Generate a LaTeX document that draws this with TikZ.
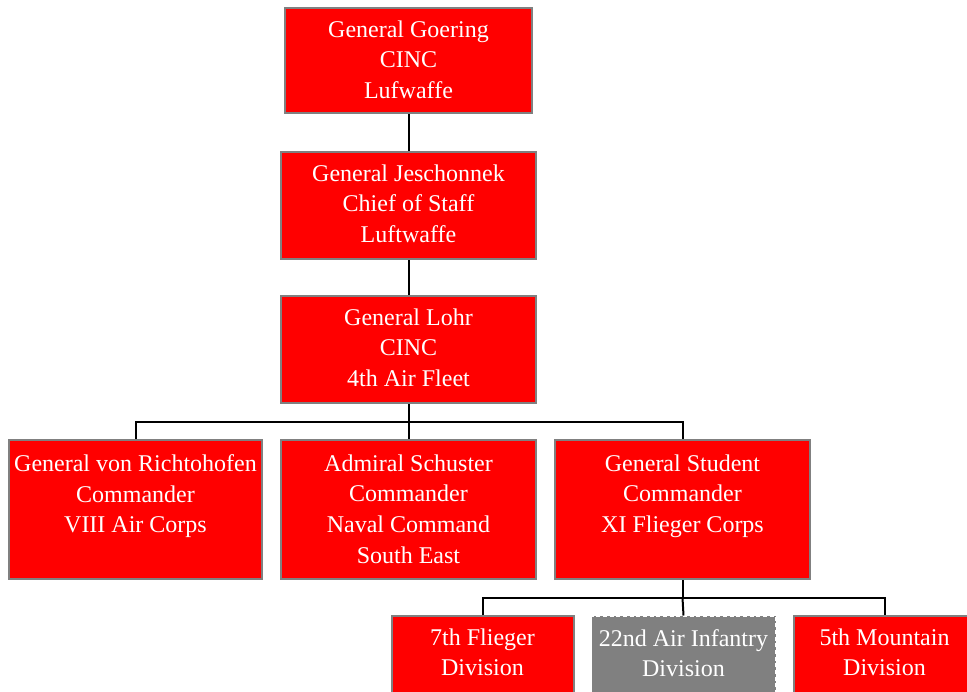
\documentclass[tikz,border=0pt]{standalone}
\usepackage{fontspec}
\setmainfont{Liberation Serif}
\usetikzlibrary{positioning}

\begin{document}
\begin{tikzpicture}[x=0.75pt,y=-0.75pt,
        unit/.style={draw={rgb, 255:red, 128; green, 128; blue, 128}, line width=1.5pt, fill={rgb, 255:red, 255; green, 0; blue, 0}, inner sep=0pt},
        detached/.style={draw=white, line width=0.75pt, densely dashed, fill={rgb, 255:red, 128; green, 128; blue, 128}, inner sep=0pt},
        unittext/.style={text=white, align=center, inner sep=0pt, font=\fontsize{18}{23}\selectfont},
        link/.style={line width=1.5pt}]
        \clip (0,0) rectangle (967,692);
        
        %Shape: Rectangle [goering]
        \node [unit, minimum width=185.25pt, minimum height=78.75pt] (goering) at (408.5,60.5) {};
        %Shape: Rectangle [jeschonnek]
        \node [unit, minimum width=191.25pt, minimum height=80.25pt] (jeschonnek) at (408.5,205.5) {};
        %Shape: Rectangle [lohr]
        \node [unit, minimum width=191.25pt, minimum height=80.25pt] (lohr) at (408.5,349.5) {};
        
        %Shape: Rectangle [richt]
        \node [unit, minimum width=189.75pt, minimum height=104.25pt] (richt) at (135.5,509.5) {};
        %Shape: Rectangle [schuster]
        \node [unit, minimum width=191.25pt, minimum height=104.25pt] (schuster) at (408.5,509.5) {};
        %Shape: Rectangle [student]
        \node [unit, minimum width=191.25pt, minimum height=104.25pt] (student) at (682.5,509.5) {};
        
        %Shape: Rectangle [flieger]
        \node [unit, minimum width=136.5pt, minimum height=70.5pt] (flieger) at (482.5,663) {};
        %Shape: Rectangle [airinf]
        \node [detached, minimum width=138pt, minimum height=70.5pt] (airinf) at (683.5,663) {};
        %Shape: Rectangle [mountain]
        \node [unit, minimum width=136.5pt, minimum height=70.5pt] (mountain) at (884.5,663) {};
        
        %Straight Lines
        \draw [link] (goering.south) -- (jeschonnek.north);
        \draw [link] (jeschonnek.south) -- (lohr.north);
        
        \coordinate (forkA) at (408.5,422);
        \draw [link] (lohr.south) -- (forkA);
        \draw [link] (richt.north) |- (forkA) -| (student.north);
        \draw [link] (forkA) -- (schuster.north);
        
        \coordinate (forkB) at (682.5,598);
        \draw [link] (student.south) -- (forkB);
        \draw [link] (flieger.north) |- (forkB) -| (mountain.north);
        \draw [link] (forkB) -- (airinf.north);
        
        % Text Node
        \node [unittext, below=10pt of goering.north] (goeringtxt) {General Goering\\CINC\\Lufwaffe};
        % Text Node
        \node [unittext, below=10pt of jeschonnek.north] (jeschonnektxt) {General Jeschonnek\\Chief of Staff\\Luftwaffe};
        % Text Node
        \node [unittext, below=10pt of lohr.north] (lohrtxt) {General Lohr\\CINC\\4th Air Fleet};
        % Text Node
        \node [unittext, below=11.5pt of richt.north] (richttxt) {General von Richtohofen\\Commander\\VIII Air Corps};
        % Text Node
        \node [unittext, below=11.5pt of schuster.north] (schustertxt) {Admiral Schuster\\Commander\\Naval Command\\South East};
        % Text Node
        \node [unittext, below=11.5pt of student.north] (studenttxt) {General Student\\Commander\\XI Flieger Corps};
        % Text Node
        \node [unittext, below=10pt of flieger.north] (fliegertxt) {7th Flieger\\Division};
        % Text Node
        \node [unittext, below=10pt of airinf.north] (airinftxt) {22nd Air Infantry\\Division};
        % Text Node
        \node [unittext, below=10pt of mountain.north] (mountaintxt) {5th Mountain\\Division};
\end{tikzpicture}
\end{document}
